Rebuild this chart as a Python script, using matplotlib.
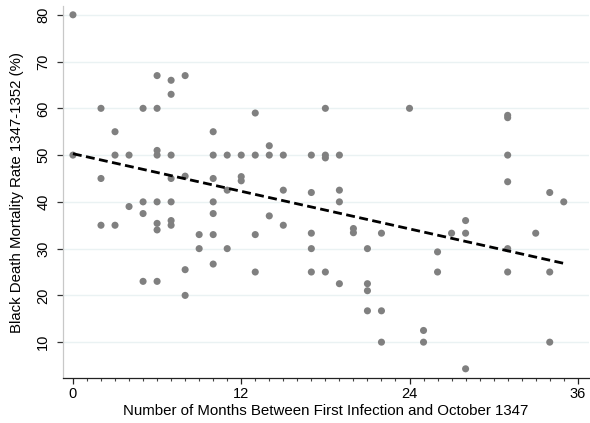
import numpy as np
import matplotlib
matplotlib.use("Agg")
import matplotlib.pyplot as plt
from matplotlib.ticker import MultipleLocator

plt.rcParams['font.family'] = ['Liberation Sans', 'DejaVu Sans']

# months between first infection and October 1347
months = [0, 0,
          2, 2, 2,
          3, 3, 3,
          4, 4,
          5, 5, 5, 5,
          6, 6, 6, 6, 6, 6, 6, 6,
          7, 7, 7, 7, 7, 7, 7,
          8, 8, 8, 8,
          9, 9,
          10, 10, 10, 10, 10, 10, 10,
          11, 11, 11,
          12, 12, 12,
          13, 13, 13, 13,
          14, 14, 14,
          15, 15, 15,
          17, 17, 17, 17, 17,
          18, 18, 18, 18,
          19, 19, 19, 19,
          20, 20,
          21, 21, 21, 21,
          22, 22, 22,
          24,
          25, 25,
          26, 26,
          27,
          28, 28, 28,
          31, 31, 31, 31, 31, 31,
          33,
          34, 34, 34,
          35]
# mortality rate (%)
mortality = [80, 50,
             60, 45, 35,
             55, 50, 35,
             50, 39,
             60, 40, 37.5, 23,
             67, 60, 51, 50, 40, 35.4, 34, 23,
             66, 63, 50, 45, 40, 36, 35,
             67, 45.5, 25.5, 20,
             33, 30,
             55, 50, 45, 40, 37.5, 33, 26.7,
             50, 42.5, 30,
             50, 45.4, 44.5,
             59, 50, 33, 25,
             52, 50, 37,
             50, 42.5, 35,
             50, 42, 33.3, 30, 25,
             60, 50, 49.4, 25,
             50, 42.5, 40, 22.5,
             34.3, 33.4,
             30, 22.5, 21, 16.7,
             33.3, 16.7, 10,
             60,
             12.5, 10,
             29.3, 25,
             33.3,
             36, 33.3, 4.3,
             58.5, 58, 50, 44.3, 30, 25,
             33.3,
             42, 25, 10,
             40]

# fitted (weighted) linear trend as shown in the chart
fit_intercept = 50.3
fit_slope = -0.67

y_ticks = [10, 20, 30, 40, 50, 60, 70, 80]
x_ticks = [0, 12, 24, 36]
x_label = "Number of Months Between First Infection and October 1347"
y_label = "Black Death Mortality Rate 1347-1352 (%)"

x = np.array(months, dtype=float)
y = np.array(mortality, dtype=float)

fig = plt.figure(figsize=(5.9, 4.23), dpi=100)
ax = fig.add_axes([0.1063, 0.106, 0.892, 0.880])

for v in y_ticks:
    ax.axhline(v, color='#eaf2f3', lw=1.0, zorder=0)

ax.scatter(x, y, s=26, color='#808080', edgecolors='none', zorder=3)
xl = np.array([x.min(), x.max()])
ax.plot(xl, fit_intercept + fit_slope * xl, color='black', lw=2.0,
        linestyle=(0, (3.2, 1.6)), zorder=4)

ax.set_xlim(-0.73, 36.8)
ax.set_ylim(2.3, 81.9)
ax.set_xticks(x_ticks)
ax.xaxis.set_minor_locator(MultipleLocator(1))
ax.set_yticks(y_ticks)

for s in ['top', 'right']:
    ax.spines[s].set_visible(False)
ax.spines['left'].set_color('#c8c8c8')
ax.spines['left'].set_linewidth(0.9)
ax.spines['bottom'].set_color('#222222')
ax.spines['bottom'].set_linewidth(0.9)

ax.tick_params(axis='x', which='major', length=4.5, width=0.9, color='#222222',
               labelsize=10.5, pad=2)
ax.tick_params(axis='x', which='minor', length=2.5, width=0.8, color='#444444')
ax.tick_params(axis='y', which='major', length=4, width=0.9, color='#333333',
               labelsize=10.5, pad=5)
for lab in ax.get_yticklabels():
    lab.set_rotation(90)
    lab.set_va('center')

ax.set_xlabel(x_label, fontsize=10.8, labelpad=2)
ax.set_ylabel(y_label, fontsize=10.8, labelpad=9)

fig.savefig('out.png', dpi=100)
